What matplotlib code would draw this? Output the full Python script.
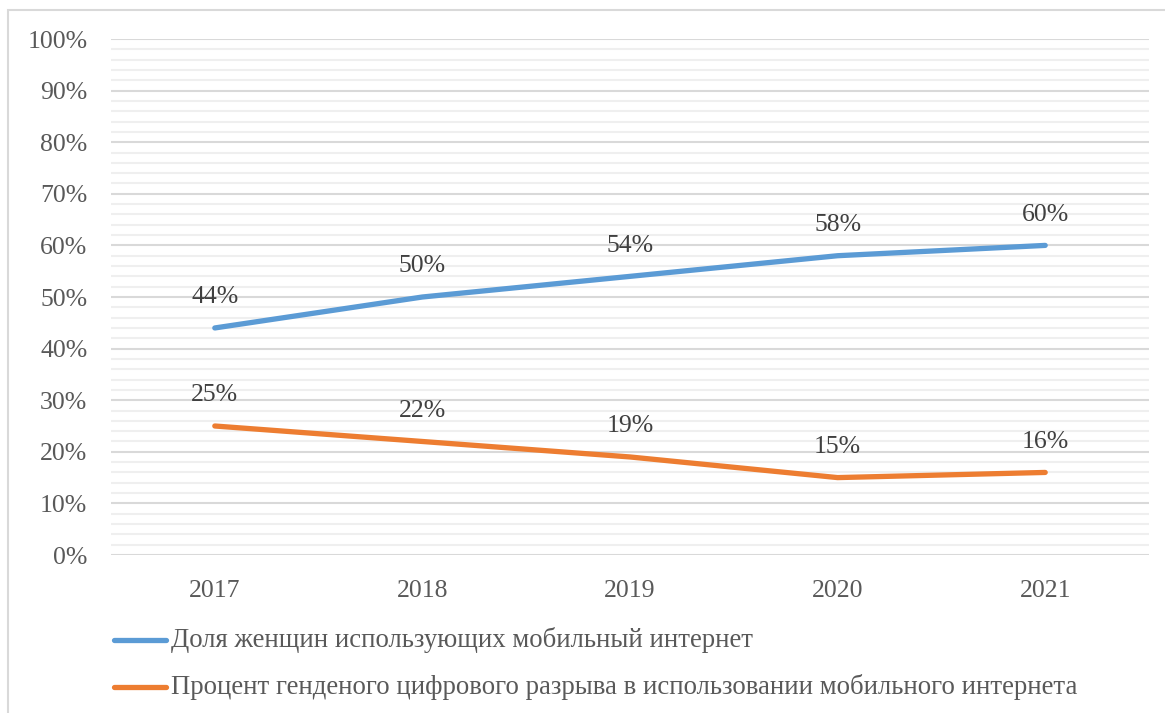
import matplotlib.pyplot as plt
from matplotlib.patches import Rectangle
from matplotlib.ticker import MultipleLocator, PercentFormatter

# Chart data
years = ["2017", "2018", "2019", "2020", "2021"]
women_share = [44, 50, 54, 58, 60]
gender_gap = [25, 22, 19, 15, 16]
series_names = [
    "Доля женщин использующих мобильный интернет",
    "Процент генденого цифрового разрыва в использовании мобильного интернета",
]

plt.rcParams['font.family'] = ['Liberation Serif', 'DejaVu Serif']
W, H = 1165, 713
fig = plt.figure(figsize=(W / 100, H / 100), dpi=100)

# outer chart frame
fig.patches.append(Rectangle((8 / W, -0.1), 1.2, 1 - 10 / H + 0.1, transform=fig.transFigure,
                             fill=False, edgecolor='#d9d9d9', linewidth=1.5))

left, right, top, bottom = 111, 1149, 39, 555
ax = fig.add_axes([left / W, 1 - bottom / H, (right - left) / W, (bottom - top) / H])

x = range(len(years))
blue, orange = '#5b9bd5', '#ed7d31'
ax.plot(x, women_share, color=blue, linewidth=3.8, solid_capstyle='round', label=series_names[0])
ax.plot(x, gender_gap, color=orange, linewidth=3.8, solid_capstyle='round', label=series_names[1])

for xi, v in zip(x, women_share):
    ax.annotate(f"{v}%", (xi, v), xytext=(0, 22), textcoords='offset points',
                ha='center', va='center', fontsize=18.5, color='#404040')
for xi, v in zip(x, gender_gap):
    ax.annotate(f"{v}%", (xi, v), xytext=(0, 22), textcoords='offset points',
                ha='center', va='center', fontsize=18.5, color='#404040')

ax.set_xlim(-0.5, len(years) - 0.5)
ax.set_ylim(0, 100)
ax.set_xticks(list(x))
ax.set_xticklabels(years)
ax.yaxis.set_major_locator(MultipleLocator(10))
ax.yaxis.set_minor_locator(MultipleLocator(2))
ax.yaxis.set_major_formatter(PercentFormatter(decimals=0))
ax.grid(axis='y', which='major', color='#d9d9d9', linewidth=1.5)
ax.grid(axis='y', which='minor', color='#efefef', linewidth=1.5)
ax.set_axisbelow(True)
for s in ax.spines.values():
    s.set_visible(False)
ax.tick_params(axis='both', which='both', length=0, labelsize=18.5, labelcolor='#595959')
ax.tick_params(axis='y', pad=17)
ax.tick_params(axis='x', pad=18)

# legend entries stacked under the plot
for i, (name, col) in enumerate(zip(series_names, [blue, orange])):
    yy = 1 - (640 + 47 * i) / H
    fig.add_artist(plt.Line2D([114 / W, 166 / W], [yy, yy], color=col, linewidth=3.8,
                              solid_capstyle='round', transform=fig.transFigure))
    fig.text(171 / W, yy, name, fontsize=19.3, color='#595959', va='center', ha='left')

fig.savefig('out.png', dpi=100)
